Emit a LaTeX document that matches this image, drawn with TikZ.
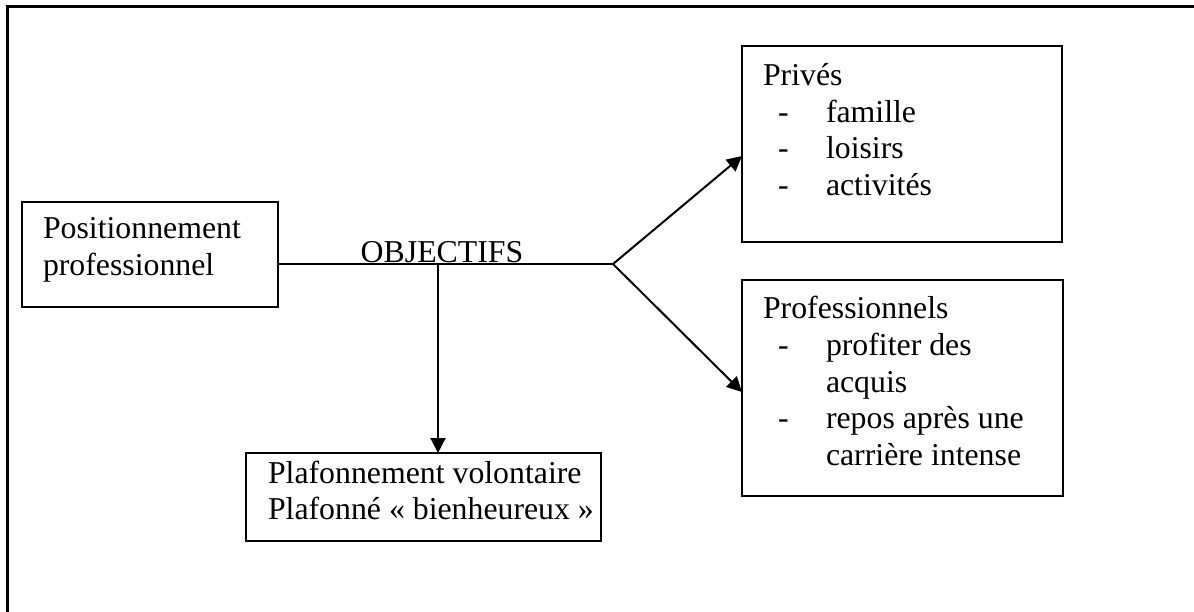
\documentclass[tikz,border=0pt]{standalone}
\usepackage{fontspec}
\setmainfont{Liberation Serif}
\usetikzlibrary{arrows.meta,calc}
\begin{document}
\begin{tikzpicture}[x=1pt,y=-1pt,
  box/.style={draw,line width=1.3pt,anchor=north west,inner sep=0pt,outer sep=0pt},
  txt/.style={anchor=base west,inner sep=0pt,outer sep=0pt,font=\fontsize{31.8}{36.6}\selectfont},
  conn/.style={line width=2pt},
  arr/.style={conn,-{Triangle[length=15pt,width=15pt]}},
  frameline/.style={line width=2.5pt}]
\useasboundingbox (0,0) rectangle (1194,611);
% outer frame (only top and left visible)
\coordinate (fc) at (7.7,6.7);
\coordinate (fr) at (1200,6.7);
\coordinate (fb) at (7.7,620);
\draw[frameline] (fr) -- (fc) -- (fb);
% boxes
\node[box,minimum width=256pt,minimum height=105pt] (pos) at (22,202) {};
\node[box,minimum width=355pt,minimum height=88pt] (plaf) at (246,453) {};
\node[box,minimum width=320pt,minimum height=196pt] (priv) at (742,46) {};
\node[box,minimum width=321pt,minimum height=216pt] (prof) at (742,280) {};
% texts
\node[txt] (t1) at (43,238) {Positionnement};
\node[txt] (t2) at (43,275) {professionnel};
\node[txt] (t3) at (268,483) {Plafonnement volontaire};
\node[txt] (t4) at (268,519) {Plafonné « bienheureux »};
\node[txt] (t5) at (763,85) {Privés};
\node[txt] (d1) at (778,122) {-};
\node[txt] (t6) at (826,122) {famille};
\node[txt] (d2) at (778,158) {-};
\node[txt] (t7) at (826,158) {loisirs};
\node[txt] (d3) at (778,195) {-};
\node[txt] (t8) at (826,195) {activités};
\node[txt] (t9) at (763,318) {Professionnels};
\node[txt] (d4) at (778,355) {-};
\node[txt] (t10) at (826,355) {profiter des};
\node[txt] (t11) at (826,392) {acquis};
\node[txt] (d5) at (778,428) {-};
\node[txt] (t12) at (826,428) {repos après une};
\node[txt] (t13) at (826,465) {carrière intense};
% connectors
\coordinate (j) at (613,264);
\coordinate (b) at (438,264);
\coordinate (tp) at (742,156);
\coordinate (tq) at (742,392);
\draw[conn] (pos.east |- j) -- (j);
\node[anchor=base,inner sep=0pt,font=\fontsize{31.8}{36.6}\selectfont] (obj) at (442,262) {OBJECTIFS};
\draw[arr] (b) -- (b |- plaf.north);
\draw[arr] (j) -- (priv.west |- tp);
\draw[arr] (j) -- (prof.west |- tq);
\end{tikzpicture}
\end{document}
